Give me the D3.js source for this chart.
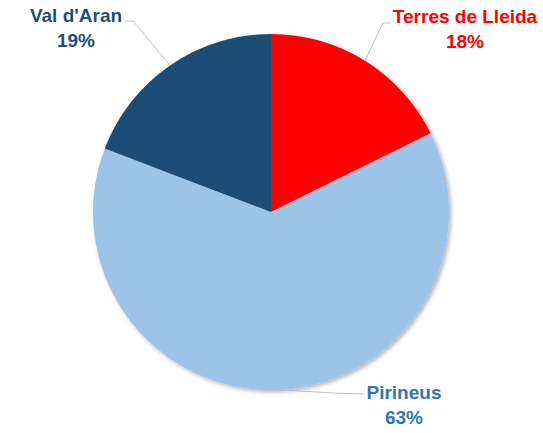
<!DOCTYPE html>
<html>
<head>
<meta charset="utf-8">
<script src="https://cdn.jsdelivr.net/npm/d3@7"></script>
<style>
  body { margin: 0; background: #fff; }
  text { font-family: "Liberation Sans", Arial, sans-serif; font-weight: bold; }
</style>
</head>
<body>
<div id="chart"></div>
<script>
const regions = ["Terres de Lleida", "Pirineus", "Val d'Aran"];
const shares = [17.7, 63.1, 19.2];

const sliceColors = ["#ff0000", "#9dc3e6", "#1f4e79"];
const labelColors = ["#ff0000", "#2e75b6", "#1f4e79"];

// label placement (text centre, first baseline) and elbow of the leader line
const labelLayout = [
  { x: 465, y: 23, elbow: [383, 23], end: [391, 23] },
  { x: 404, y: 399, elbow: [333, 393], end: [364, 394] },
  { x: 76, y: 22, elbow: [133, 21], end: [125, 21] }
];

const WIDTH = 543, HEIGHT = 433;
const CX = 271, CY = 212, R = 178;

const svg = d3.select("#chart").append("svg")
  .attr("width", WIDTH)
  .attr("height", HEIGHT);

const defs = svg.append("defs");
const f = defs.append("filter").attr("id", "shadow")
  .attr("x", "-10%").attr("y", "-10%").attr("width", "120%").attr("height", "120%");
f.append("feDropShadow").attr("dx", 2).attr("dy", 2).attr("stdDeviation", 2)
  .attr("flood-color", "#000").attr("flood-opacity", 0.3);

const data = regions.map((r, i) => ({ name: r, value: shares[i], i }));
const total = d3.sum(shares);

const pie = d3.pie().sort(null).value(d => d.value);
const arc = d3.arc().innerRadius(0).outerRadius(R);
const arcs = pie(data);

const g = svg.append("g").attr("transform", `translate(${CX},${CY})`);

g.append("g").attr("filter", "url(#shadow)")
  .selectAll("path")
  .data(arcs)
  .enter().append("path")
  .attr("d", arc)
  .attr("fill", d => sliceColors[d.data.i]);

// leader lines
const edge = d3.arc().innerRadius(R).outerRadius(R);
svg.append("g").selectAll("polyline")
  .data(arcs)
  .enter().append("polyline")
  .attr("points", d => {
    const c = edge.centroid(d);
    const L = labelLayout[d.data.i];
    return [[CX + c[0], CY + c[1]], L.elbow, L.end].map(p => p.join(",")).join(" ");
  })
  .attr("fill", "none")
  .attr("stroke", "#bfbfbf")
  .attr("stroke-width", 1);

const fmt = d3.format(".0%");
const labels = svg.append("g").selectAll("text")
  .data(arcs)
  .enter().append("text")
  .attr("x", d => labelLayout[d.data.i].x)
  .attr("y", d => labelLayout[d.data.i].y)
  .attr("text-anchor", "middle")
  .attr("fill", d => labelColors[d.data.i])
  .style("font-size", "19px");

labels.append("tspan")
  .attr("x", d => labelLayout[d.data.i].x)
  .text(d => d.data.name);
labels.append("tspan")
  .attr("x", d => labelLayout[d.data.i].x)
  .attr("dy", 25)
  .text(d => fmt(d.data.value / total));
</script>
</body>
</html>
